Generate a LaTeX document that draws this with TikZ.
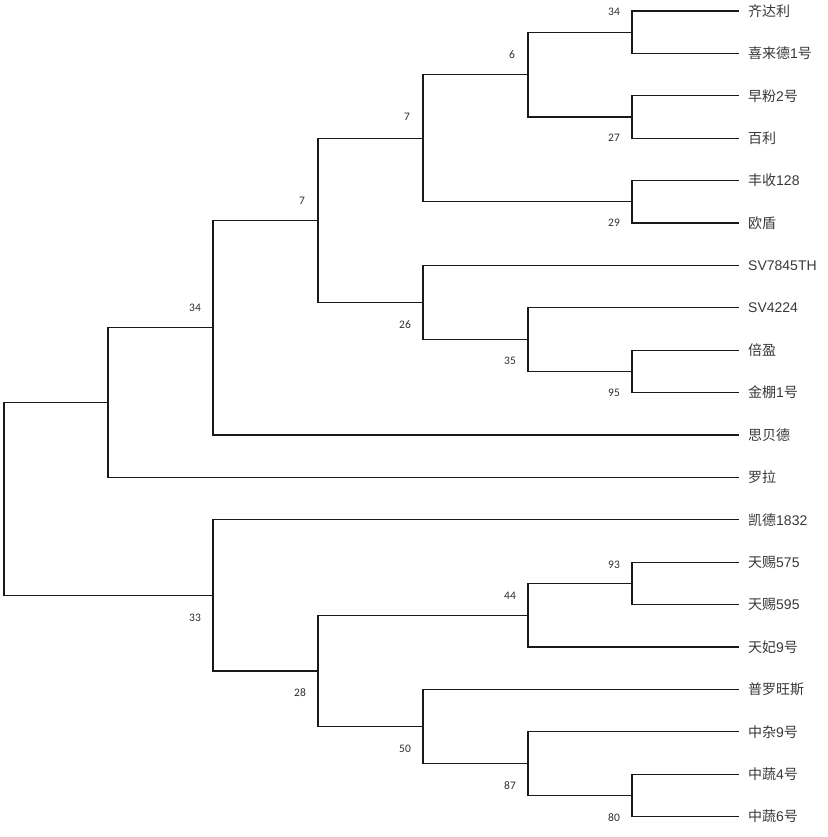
\documentclass[tikz,border=0pt]{standalone}
\usepackage{fontspec}
\setmainfont{Liberation Sans}
\newfontfamily\cjk{Noto Sans CJK SC}
\newfontfamily\bsf{Carlito}
\begin{document}
\begin{tikzpicture}[x=1pt,y=-1pt,
  br/.style={draw=black!90, line width=1.3pt, line cap=rect},
  leaf/.style={anchor=west, inner sep=0pt, font=\fontsize{14}{16}\selectfont, text=black!78},
  bs/.style={inner sep=0pt, font=\bsf\fontsize{11.5}{12}\selectfont, text=black!82}]
\def\Y#1{{11+(#1-1)*42.4}}
\useasboundingbox (0,0) rectangle (827,837);
% leaves
\foreach \i in {1,...,20} { \coordinate (l\i) at (738,\Y{\i}); }
% internal nodes
\coordinate (I) at (632,\Y{1.5});
\coordinate (J) at (632,\Y{3.5});
\coordinate (G) at (528,\Y{2.5});
\coordinate (H) at (632,\Y{5.5});
\coordinate (E) at (423,\Y{4});
\coordinate (L) at (632,\Y{9.5});
\coordinate (K) at (528,\Y{8.75});
\coordinate (F) at (423,\Y{7.875});
\coordinate (D) at (318,\Y{5.9375});
\coordinate (C) at (213,\Y{8.46875});
\coordinate (A) at (108,\Y{10.234375});
\coordinate (P) at (632,\Y{14.5});
\coordinate (N) at (528,\Y{15.25});
\coordinate (R) at (632,\Y{19.5});
\coordinate (Q) at (528,\Y{18.75});
\coordinate (O) at (423,\Y{17.875});
\coordinate (M) at (318,\Y{16.5625});
\coordinate (B) at (213,\Y{14.78125});
\coordinate (root) at (4,\Y{12.5078125});
% branches
\draw[br] (root) |- (A); \draw[br] (root) |- (B);
\draw[br] (A) |- (C); \draw[br] (A) |- (l12);
\draw[br] (C) |- (D); \draw[br] (C) |- (l11);
\draw[br] (D) |- (E); \draw[br] (D) |- (F);
\draw[br] (E) |- (G); \draw[br] (E) |- (H);
\draw[br] (G) |- (I); \draw[br] (G) |- (J);
\draw[br] (I) |- (l1); \draw[br] (I) |- (l2);
\draw[br] (J) |- (l3); \draw[br] (J) |- (l4);
\draw[br] (H) |- (l5); \draw[br] (H) |- (l6);
\draw[br] (F) |- (l7); \draw[br] (F) |- (K);
\draw[br] (K) |- (l8); \draw[br] (K) |- (L);
\draw[br] (L) |- (l9); \draw[br] (L) |- (l10);
\draw[br] (B) |- (l13); \draw[br] (B) |- (M);
\draw[br] (M) |- (N); \draw[br] (M) |- (O);
\draw[br] (N) |- (P); \draw[br] (N) |- (l16);
\draw[br] (P) |- (l14); \draw[br] (P) |- (l15);
\draw[br] (O) |- (l17); \draw[br] (O) |- (Q);
\draw[br] (Q) |- (l18); \draw[br] (Q) |- (R);
\draw[br] (R) |- (l19); \draw[br] (R) |- (l20);
% leaf labels
\node[leaf] (t1) at ([xshift=10pt]l1) {{\cjk 齐达利}};
\node[leaf] (t2) at ([xshift=10pt]l2) {{\cjk 喜来德}1{\cjk 号}};
\node[leaf] (t3) at ([xshift=10pt]l3) {{\cjk 早粉}2{\cjk 号}};
\node[leaf] (t4) at ([xshift=10pt]l4) {{\cjk 百利}};
\node[leaf] (t5) at ([xshift=10pt]l5) {{\cjk 丰收}128};
\node[leaf] (t6) at ([xshift=10pt]l6) {{\cjk 欧盾}};
\node[leaf] (t7) at ([xshift=10pt]l7) {SV7845TH};
\node[leaf] (t8) at ([xshift=10pt]l8) {SV4224};
\node[leaf] (t9) at ([xshift=10pt]l9) {{\cjk 倍盈}};
\node[leaf] (t10) at ([xshift=10pt]l10) {{\cjk 金棚}1{\cjk 号}};
\node[leaf] (t11) at ([xshift=10pt]l11) {{\cjk 思贝德}};
\node[leaf] (t12) at ([xshift=10pt]l12) {{\cjk 罗拉}};
\node[leaf] (t13) at ([xshift=10pt]l13) {{\cjk 凯德}1832};
\node[leaf] (t14) at ([xshift=10pt]l14) {{\cjk 天赐}575};
\node[leaf] (t15) at ([xshift=10pt]l15) {{\cjk 天赐}595};
\node[leaf] (t16) at ([xshift=10pt]l16) {{\cjk 天妃}9{\cjk 号}};
\node[leaf] (t17) at ([xshift=10pt]l17) {{\cjk 普罗旺斯}};
\node[leaf] (t18) at ([xshift=10pt]l18) {{\cjk 中杂}9{\cjk 号}};
\node[leaf] (t19) at ([xshift=10pt]l19) {{\cjk 中蔬}4{\cjk 号}};
\node[leaf] (t20) at ([xshift=10pt]l20) {{\cjk 中蔬}6{\cjk 号}};
% bootstrap values
\node[bs] (bI) at ([shift={(-18,-20)}]I) {34};
\node[bs] (bG) at ([shift={(-16,-20)}]G) {6};
\node[bs] (bE) at ([shift={(-16,-21)}]E) {7};
\node[bs] (bD) at ([shift={(-16,-20)}]D) {7};
\node[bs] (bC) at ([shift={(-18,-20)}]C) {34};
\node[bs] (bJ) at ([shift={(-18,21)}]J) {27};
\node[bs] (bH) at ([shift={(-18,21)}]H) {29};
\node[bs] (bF) at ([shift={(-18,22)}]F) {26};
\node[bs] (bK) at ([shift={(-18,21)}]K) {35};
\node[bs] (bL) at ([shift={(-18,21)}]L) {95};
\node[bs] (bB) at ([shift={(-18,22)}]B) {33};
\node[bs] (bM) at ([shift={(-18,22)}]M) {28};
\node[bs] (bN) at ([shift={(-18,-19)}]N) {44};
\node[bs] (bP) at ([shift={(-18,-19)}]P) {93};
\node[bs] (bO) at ([shift={(-18,22)}]O) {50};
\node[bs] (bQ) at ([shift={(-18,22)}]Q) {87};
\node[bs] (bR) at ([shift={(-18,22)}]R) {80};
\end{tikzpicture}
\end{document}
